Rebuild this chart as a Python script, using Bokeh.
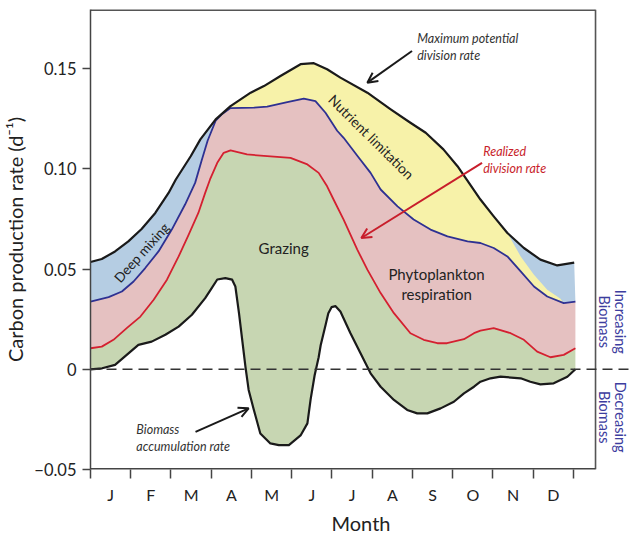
from bokeh.plotting import figure
from bokeh.models import Range1d, FixedTicker, Label, Arrow, OpenHead
from bokeh.embed import file_html
from bokeh.resources import INLINE

months = ["J", "F", "M", "A", "M", "J", "J", "A", "S", "O", "N", "D"]
y_ticks = [-0.05, 0, 0.05, 0.10, 0.15]
y_tick_labels = ["\u22120.05", "0", "0.05", "0.10", "0.15"]

# Maximum potential division rate (black top line)
max_x = [0.0, 0.28, 0.61, 0.94, 1.27, 1.61, 1.94, 2.12, 2.49, 2.73, 3.11, 3.48, 3.98, 4.31, 4.72,
         5.22, 5.55, 5.88, 6.21, 6.88, 7.46, 7.95, 8.33, 8.77, 9.12, 9.69, 10.02, 10.36, 10.77,
         11.18, 11.60, 12.02]
max_y = [0.0535, 0.055, 0.0588, 0.0638, 0.070, 0.078, 0.088, 0.0947, 0.1063, 0.1147, 0.1247, 0.1313,
         0.138, 0.1413, 0.1463, 0.1522, 0.1527, 0.1497, 0.1455, 0.138, 0.1297, 0.123, 0.118, 0.1097,
         0.1013, 0.0847, 0.0763, 0.068, 0.0605, 0.0547, 0.0518, 0.0532]

# Light/mixing-limited rate (blue line)
blue_x = [0.0, 0.45, 0.78, 1.07, 1.36, 1.69, 2.02, 2.35, 2.60, 2.76, 2.91, 3.11, 3.28, 3.48, 4.06,
          4.39, 4.89, 5.30, 5.59, 5.84, 6.13, 6.29, 6.64, 6.96, 7.21, 7.63, 8.03, 8.45, 8.87, 9.37,
          9.69, 10.02, 10.36, 10.69, 11.02, 11.35, 11.76, 12.05]
blue_y = [0.0338, 0.036, 0.0388, 0.0438, 0.0505, 0.0588, 0.0697, 0.0822, 0.093, 0.104, 0.114, 0.124,
          0.1275, 0.1303, 0.1305, 0.131, 0.1333, 0.135, 0.1338, 0.128, 0.119, 0.1155, 0.1063, 0.098,
          0.0897, 0.0813, 0.0747, 0.0697, 0.0663, 0.0638, 0.063, 0.0605, 0.0563, 0.0488, 0.0413,
          0.0363, 0.033, 0.0338]

# Nutrient-limitation edge at the end of the year (no line drawn)
nutr_x = [10.69, 11.02, 11.35, 11.68]
nutr_y = [0.0563, 0.0472, 0.0397, 0.0352]

# Realized division rate (red line)
red_x = [0.0, 0.28, 0.57, 0.90, 1.24, 1.57, 1.90, 2.19, 2.44, 2.68, 2.85, 2.97, 3.15, 3.31, 3.48,
         3.89, 4.39, 4.97, 5.39, 5.67, 5.88, 6.04, 6.29, 6.63, 6.88, 7.21, 7.54, 7.95, 8.28, 8.62,
         8.86, 9.28, 9.53, 9.69, 10.02, 10.44, 10.77, 11.10, 11.43, 11.76, 12.05]
red_y = [0.0105, 0.0113, 0.0147, 0.0205, 0.0263, 0.0347, 0.0447, 0.0563, 0.0672, 0.078, 0.088,
         0.0947, 0.103, 0.108, 0.1092, 0.1072, 0.1063, 0.1055, 0.1022, 0.098, 0.0913, 0.0847,
         0.0747, 0.0597, 0.0497, 0.038, 0.028, 0.018, 0.0147, 0.013, 0.013, 0.015, 0.018, 0.0193,
         0.0205, 0.018, 0.0147, 0.0088, 0.006, 0.0072, 0.0105]

# Biomass accumulation rate (black bottom line)
acc_x = [0.0, 0.29, 0.61, 0.90, 1.19, 1.52, 1.86, 2.19, 2.52, 2.85, 2.98, 3.15, 3.35, 3.52, 3.60,
         3.69, 3.77, 3.85, 3.93, 4.06, 4.22, 4.47, 4.68, 4.93, 5.22, 5.39, 5.47, 5.57, 5.67, 5.72,
         5.84, 5.91, 5.99, 6.09, 6.21, 6.46, 6.71, 6.96, 7.21, 7.54, 7.87, 8.12, 8.37, 8.70, 9.03,
         9.28, 9.53, 9.69, 9.94, 10.19, 10.69, 10.93, 11.18, 11.51, 11.85, 12.05]
acc_y = [0.0, 0.0005, 0.0022, 0.0072, 0.0122, 0.0138, 0.0172, 0.0213, 0.0272, 0.0355, 0.0395,
         0.0448, 0.0455, 0.0447, 0.0413, 0.028, 0.0147, 0.0013, -0.0103, -0.0203, -0.032, -0.037,
         -0.0378, -0.0378, -0.033, -0.027, -0.015, -0.003, 0.006, 0.012, 0.022, 0.028, 0.031,
         0.0315, 0.0288, 0.018, 0.008, -0.002, -0.0087, -0.0153, -0.0203, -0.022, -0.022, -0.0195,
         -0.0162, -0.012, -0.0087, -0.0062, -0.0045, -0.0037, -0.0045, -0.0062, -0.0075, -0.007,
         -0.0037, 0.0]

FONT = "Lato"
DARK = "#222222"
AXIS = "#444444"
BOX = "#555555"
X_END_BOX = 12.55      # right edge of the drawn box (months)
Y0, Y1 = -0.05, 0.1795

p = figure(width=631, height=537, output_backend="svg", toolbar_location=None, tools="",
           x_range=Range1d(0, 13.444), y_range=Range1d(Y0, Y1),
           min_border_left=90, min_border_right=0, min_border_top=9, min_border_bottom=0)
p.background_fill_color = "white"
p.border_fill_color = "white"
p.outline_line_color = None
p.xgrid.visible = False
p.ygrid.visible = False

# fills
p.patch(max_x + blue_x[::-1], max_y + blue_y[::-1], fill_color="#b5cde3", line_color=None)
j0, j1 = 3.11, 10.36
yt_x = [x for x in max_x if j0 <= x <= j1] + nutr_x
yt_y = [y for x, y in zip(max_x, max_y) if j0 <= x <= j1] + nutr_y
yb = [(x, y) for x, y in zip(blue_x, blue_y) if j0 <= x <= 11.76][::-1]
p.patch(yt_x + [b[0] for b in yb], yt_y + [b[1] for b in yb], fill_color="#f7f2a9", line_color=None)
p.patch(blue_x + red_x[::-1], blue_y + red_y[::-1], fill_color="#e5c1c1", line_color=None)
p.patch(red_x + acc_x[::-1], red_y + acc_y[::-1], fill_color="#c7d6b2", line_color=None)

# lines
p.line(blue_x, blue_y, line_color="#2e3192", line_width=1.8, line_join="round")
p.line(red_x, red_y, line_color="#d42030", line_width=1.8, line_join="round")
p.line(acc_x, acc_y, line_color="#1a1a1a", line_width=2.2, line_join="round")
p.line(max_x, max_y, line_color="#1a1a1a", line_width=2.2, line_join="round")

# box: top, right and bottom edges
p.line([0, X_END_BOX], [Y1, Y1], line_color=BOX, line_width=3)
p.line([X_END_BOX, X_END_BOX], [Y0, Y1], line_color=BOX, line_width=1.6)
p.line([0, X_END_BOX], [Y0, Y0], line_color=AXIS, line_width=3)

# zero line
p.line([0, 13.37], [0, 0], line_color="#333333", line_width=1.6, line_dash="10 6")

# axes
xa = p.xaxis[0]
xa.ticker = FixedTicker(ticks=[i + 0.5 for i in range(12)], minor_ticks=list(range(13)))
xa.major_label_overrides = {i + 0.5: m for i, m in enumerate(months)}
xa.major_tick_out = 0
xa.major_tick_in = 0
xa.minor_tick_out = 9
xa.minor_tick_in = 0
xa.minor_tick_line_color = AXIS
xa.minor_tick_line_width = 1.5
xa.axis_line_color = None
xa.major_label_text_font = FONT
xa.major_label_text_font_size = "16px"
xa.major_label_text_color = DARK
xa.major_label_standoff = 6
xa.axis_label = "Month"
xa.axis_label_text_font = FONT
xa.axis_label_text_font_size = "20px"
xa.axis_label_text_font_style = "normal"
xa.axis_label_text_color = DARK
xa.axis_label_standoff = 4

ya = p.yaxis[0]
ya.ticker = FixedTicker(ticks=y_ticks, minor_ticks=[])
ya.major_label_overrides = {t: l for t, l in zip(y_ticks, y_tick_labels)}
ya.major_tick_out = 8
ya.major_tick_in = 0
ya.major_tick_line_color = AXIS
ya.major_tick_line_width = 1.5
ya.axis_line_color = AXIS
ya.axis_line_width = 1.5
ya.major_label_text_font = FONT
ya.major_label_text_font_size = "16.5px"
ya.major_label_text_color = DARK
ya.major_label_standoff = 6
ya.axis_label = "Carbon production rate (d\u207b\u00b9)"
ya.axis_label_text_font = FONT
ya.axis_label_text_font_size = "20px"
ya.axis_label_text_font_style = "normal"
ya.axis_label_text_color = DARK
ya.axis_label_standoff = 4


def lab(x, y, t, size="14px", angle=0, color=DARK, style="normal", align="center"):
    p.add_layout(Label(x=x, y=y, text=t, text_font=FONT, text_font_size=size, angle=angle,
                       text_color=color, text_font_style=style, text_align=align,
                       text_baseline="middle"))


lab(1.27, 0.0582, "Deep mixing", "13.5px", angle=0.84)
lab(6.98, 0.1160, "Nutrient limitation", "14px", angle=-0.78)
lab(4.80, 0.0607, "Grazing", "15px")
lab(8.60, 0.0477, "Phytoplankton", "15px")
lab(8.60, 0.0377, "respiration", "15px")
lab(8.12, 0.1652, "Maximum potential", "12.5px", color="#333333", style="italic", align="left")
lab(8.12, 0.1567, "division rate", "12.5px", color="#333333", style="italic", align="left")
lab(9.76, 0.1087, "Realized", "12.5px", color="#c81e2b", style="italic", align="left")
lab(9.76, 0.1002, "division rate", "12.5px", color="#c81e2b", style="italic", align="left")
lab(1.14, -0.0299, "Biomass", "12.5px", color="#333333", style="italic", align="left")
lab(1.14, -0.0384, "accumulation rate", "12.5px", color="#333333", style="italic", align="left")

SIDE = "#3d3d9e"
lab(13.18, 0.0237, "Increasing", "14.5px", angle=-1.5708, color=SIDE)
lab(12.78, 0.0237, "Biomass", "14.5px", angle=-1.5708, color=SIDE)
lab(13.18, -0.0239, "Decreasing", "14.5px", angle=-1.5708, color=SIDE)
lab(12.78, -0.0239, "Biomass", "14.5px", angle=-1.5708, color=SIDE)

# arrows
p.add_layout(Arrow(end=OpenHead(size=10, line_width=2, line_color="#1a1a1a"),
                   x_start=7.99, y_start=0.1588, x_end=6.88, y_end=0.143,
                   line_color="#1a1a1a", line_width=2))
p.add_layout(Arrow(end=OpenHead(size=10, line_width=2, line_color="#c81e2b"),
                   x_start=9.73, y_start=0.103, x_end=6.73, y_end=0.0655,
                   line_color="#c81e2b", line_width=2))
p.add_layout(Arrow(end=OpenHead(size=10, line_width=2, line_color="#1a1a1a"),
                   x_start=2.61, y_start=-0.0312, x_end=3.93, y_end=-0.0195,
                   line_color="#1a1a1a", line_width=2))

open("out.html", "w").write(file_html(p, INLINE))
